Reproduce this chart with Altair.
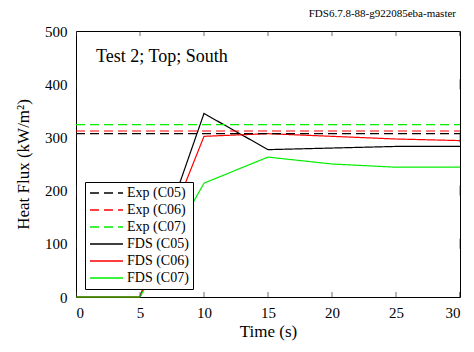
import altair as alt
import pandas as pd

# ---- data ----
fds_time = [0, 5, 10, 15, 20, 25, 30]
fds_c05 = [0, 0, 345, 277, 280, 283, 283]
fds_c06 = [0, 0, 302, 307, 302, 297, 294]
fds_c07 = [0, 0, 214, 263, 250, 244, 244]

exp_time = [0, 30]
exp_c05 = 307
exp_c06 = 312
exp_c07 = 324

x_ticks = [0, 5, 10, 15, 20, 25, 30]
y_ticks = [0, 100, 200, 300, 400, 500]

series_order = ["Exp (C05)", "Exp (C06)", "Exp (C07)", "FDS (C05)", "FDS (C06)", "FDS (C07)"]
series_colors = ["#000000", "#ff0000", "#00ee00", "#000000", "#ff0000", "#00ee00"]
series_dash = [[9, 5], [9, 5], [9, 5], [1, 0], [1, 0], [1, 0]]

rows = []
for name, vals in [("FDS (C05)", fds_c05), ("FDS (C06)", fds_c06), ("FDS (C07)", fds_c07)]:
    for t, v in zip(fds_time, vals):
        rows.append({"series": name, "t": t, "q": v})
for name, v in [("Exp (C05)", exp_c05), ("Exp (C06)", exp_c06), ("Exp (C07)", exp_c07)]:
    for t in exp_time:
        rows.append({"series": name, "t": t, "q": v})
df = pd.DataFrame(rows)

W, H = 384, 266
FONT = "Liberation Serif"

xscale = alt.Scale(domain=[0, 30], nice=False)
yscale = alt.Scale(domain=[0, 500], nice=False)

lines = alt.Chart(df).mark_line(strokeWidth=1.2).encode(
    x=alt.X("t:Q", scale=xscale, title="Time (s)",
            axis=alt.Axis(values=x_ticks, ticks=False, domain=False, grid=False,
                          labelPadding=8, titlePadding=3)),
    y=alt.Y("q:Q", scale=yscale, title="Heat Flux (kW/m²)",
            axis=alt.Axis(values=y_ticks, ticks=False, domain=False, grid=False,
                          labelPadding=9, titlePadding=12)),
    color=alt.Color("series:N", scale=alt.Scale(domain=series_order, range=series_colors),
                    title=None),
    strokeDash=alt.StrokeDash("series:N", scale=alt.Scale(domain=series_order, range=series_dash),
                              title=None),
    detail="series:N",
)

xt = pd.DataFrame({"v": x_ticks})
yt = pd.DataFrame({"v": y_ticks})
tick_style = dict(size=10, thickness=1, color="#333333", clip=True)
xticks_bottom = alt.Chart(xt).mark_tick(**tick_style).encode(
    x=alt.X("v:Q", scale=xscale), y=alt.YDatum(0, scale=yscale))
xticks_top = alt.Chart(xt).mark_tick(**tick_style).encode(
    x=alt.X("v:Q", scale=xscale), y=alt.YDatum(500, scale=yscale))
yticks_left = alt.Chart(yt).mark_tick(**tick_style).encode(
    y=alt.Y("v:Q", scale=yscale), x=alt.XDatum(0, scale=xscale))
yticks_right = alt.Chart(yt).mark_tick(**tick_style).encode(
    y=alt.Y("v:Q", scale=yscale), x=alt.XDatum(30, scale=xscale))

label = alt.Chart(pd.DataFrame({"txt": ["Test 2; Top; South"]})).mark_text(
    align="left", baseline="middle", font=FONT, fontSize=18, color="black"
).encode(text="txt:N", x=alt.value(20), y=alt.value(26))

version = alt.Chart(pd.DataFrame({"txt": ["FDS6.7.8-88-g922085eba-master"]})).mark_text(
    align="right", baseline="middle", font=FONT, fontSize=11, color="black"
).encode(text="txt:N", x=alt.value(W - 4), y=alt.value(-17))

chart = alt.layer(lines, xticks_bottom, xticks_top, yticks_left, yticks_right, label, version).properties(
    width=W, height=H,
    autosize=alt.AutoSizeParams(type="none"),
    padding={"left": 68, "top": 23, "right": 6, "bottom": 47},
).configure_view(
    stroke="black", strokeWidth=1
).configure_axis(
    labelFont=FONT, titleFont=FONT, labelFontSize=15, titleFontSize=17,
    labelColor="black", titleColor="black", titleFontWeight="normal"
).configure_legend(
    orient="none", legendX=9, legendY=151,
    strokeColor="black", fillColor="white", padding=4,
    labelFont=FONT, labelFontSize=14, labelColor="black",
    symbolType="M-1,0H4.5", symbolSize=144, symbolStrokeWidth=1.5,
    rowPadding=3, labelOffset=24,
)

chart.save("out.html", embed_options={"renderer": "svg", "actions": False})
